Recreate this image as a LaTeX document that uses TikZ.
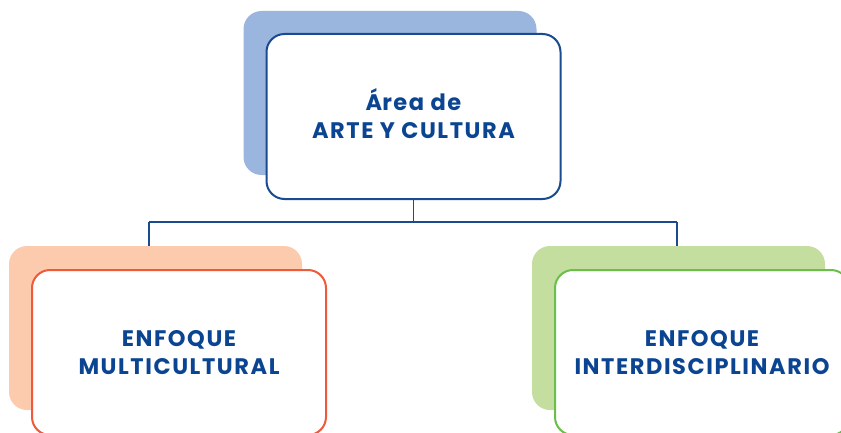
\documentclass[tikz,border=0pt]{standalone}
\usepackage{fontspec}
\setmainfont{Poppins}[LetterSpace=7]
\usepackage{xcolor}
\usepackage{tikz}
\usetikzlibrary{positioning, calc}

\definecolor{areablue}{HTML}{1A4A8F}
\definecolor{areashade}{HTML}{9AB5DE}
\definecolor{textblue}{HTML}{0B4592}
\definecolor{multired}{HTML}{EF5A3A}
\definecolor{multishade}{HTML}{FCCBAE}
\definecolor{intergreen}{HTML}{6CBE4B}
\definecolor{intershade}{HTML}{C3DE9E}

\tikzset{
	card/.style={draw=#1, line width=2pt, fill=white, rounded corners=18pt,
		minimum width=294pt, minimum height=165pt, align=center, text=textblue,
		font=\fontsize{22.5}{28}\selectfont\bfseries, inner sep=0pt},
	backcard/.style={fill=#1, rounded corners=18pt, minimum width=293pt,
		minimum height=164pt, inner sep=0pt},
	link/.style={draw=areablue, line width=1.4pt}
}

\begin{document}
\begin{tikzpicture}[x=1pt, y=1pt]
	\useasboundingbox (0,0) rectangle (841,432);
	% Define the shadows behind the cards
	\node[backcard=areashade] (areashadow) at (390,339) {};
	\node[backcard=multishade] (multishadow) at (155.5,104) {};
	\node[backcard=intershade] (intershadow) at (678.5,104) {};
	
	% Define the connections (tree)
	\coordinate (ljoin) at (149,210);
	\coordinate (rjoin) at (677,210);
	\path[link] (ljoin) -- (rjoin);
	\path[link] (ljoin) -- (ljoin |- multishadow.north);
	\path[link] (rjoin) -- (rjoin |- intershadow.north);
	
	% Define the cards
	\node[card=areablue] (area) at (413.5,315.5) {\smash{Á}rea de\\ARTE Y CULTURA};
	\node[card=multired] (multi) at (179,79.5) {ENFOQUE\\MULTICULTURAL};
	\node[card=intergreen] (inter) at (702,79.5) {ENFOQUE\\INTERDISCIPLINARIO};
	\path[link] (area.south) -- (area.south |- ljoin);
\end{tikzpicture}
\end{document}
